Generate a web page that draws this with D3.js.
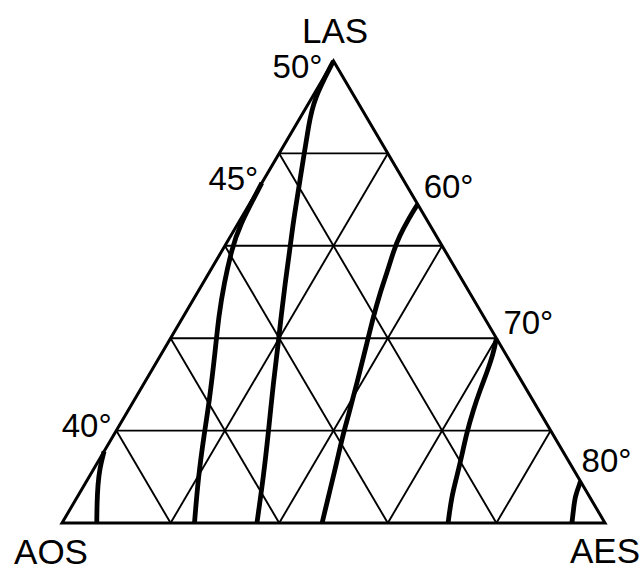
<!DOCTYPE html>
<html>
<head>
<meta charset="utf-8">
<script src="https://cdn.jsdelivr.net/npm/d3@7"></script>
<style>
  html, body { margin: 0; padding: 0; background: #fff; }
  text { font-family: "Liberation Sans", Arial, Helvetica, sans-serif; fill: #000; }
</style>
</head>
<body>
<svg id="chart" width="643" height="572"></svg>
<script>
// Corner components of the ternary diagram
const corners = ["LAS", "AOS", "AES"];
// Grid fractions (percent) for the three families of grid lines
const gridSteps = [20, 40, 60, 80];

// Isotherm names
const isothermLabels = ["40°", "45°", "50°", "60°", "70°", "80°"];
// Each isotherm as [LAS %, AES %] pairs; AOS % = 100 − LAS − AES
const iso40 = [[15.5, 0], [11.9, 1.0], [8.2, 2.5], [4.3, 4.3], [0, 6.4]];
const iso45 = [[73.6, 0], [64.1, 0.5], [59.1, 1.7], [51.9, 3.9], [44.7, 6.5], [37.5, 9.5],
               [26.0, 14.1], [19.4, 16.5], [10.0, 20.1], [0, 24.4]];
const iso50 = [[100, 0], [91.6, 0.5], [85.8, 2.5], [80.0, 4.6], [72.1, 7.5], [65.2, 10.0],
               [59.1, 12.4], [51.5, 15.3], [44.7, 18.0], [39.6, 20.1], [30.2, 23.8],
               [19.4, 28.3], [10.0, 32.1], [0, 35.9]];
const iso60 = [[69, 31], [66, 30.9], [62, 31.1], [59, 31.6], [54, 32.8], [49.7, 33.7],
               [44.7, 35.0], [39.6, 36.5], [30.2, 39.2], [23.0, 41.2], [19.4, 42.1],
               [12.9, 44.1], [7.1, 45.8], [0, 47.9]];
const iso70 = [[40, 60], [36.7, 61.1], [32.4, 62.0], [28.8, 62.6], [24.5, 63.5], [19.4, 64.8],
               [14.4, 66.4], [10.0, 67.7], [5.7, 68.9], [0, 71.1]];
const iso80 = [[9, 91], [5.7, 91.6], [2.8, 92.8], [0, 93.9]];

const isotherms = [iso40, iso45, iso50, iso60, iso70, iso80];

// ---- layout ----
const frame = { left: 62, right: 605, base: 523, top: 61 };

// horizontal position follows AES + LAS/2, vertical follows LAS
const xScale = d3.scaleLinear().domain([0, 100]).range([frame.left, frame.right]);
const yScale = d3.scaleLinear().domain([0, 100]).range([frame.base, frame.top]);
const project = ([las, aes]) => [xScale(aes + las / 2), yScale(las)];

// label placement relative to each isotherm's first point
const isoLabelLayout = {
  "40°": { anchor: "end",   dx: 7.5,  dy: -14 },
  "45°": { anchor: "end",   dx: -3.5, dy: 7 },
  "50°": { anchor: "end",   dx: -11,  dy: 17 },
  "60°": { anchor: "start", dx: 6,    dy: -6 },
  "70°": { anchor: "start", dx: 7,    dy: -4 },
  "80°": { anchor: "start", dx: 1,    dy: -9 }
};
// corner label placement relative to each vertex
const cornerLayout = {
  "LAS": { pt: [100, 0], dx: 1.5, dy: -18 },
  "AOS": { pt: [0, 0],   dx: -11, dy: 41 },
  "AES": { pt: [0, 100], dx: 0,   dy: 40 }
};

const svg = d3.select("#chart");
const line = d3.line();
const smooth = d3.line().curve(d3.curveBasis);

// ---- grid ----
const gridG = svg.append("g")
  .attr("fill", "none").attr("stroke", "#000").attr("stroke-width", 1.9);
gridSteps.forEach(s => {
  // constant LAS
  gridG.append("path").attr("d", line([project([s, 0]), project([s, 100 - s])]));
  // constant AES
  gridG.append("path").attr("d", line([project([0, s]), project([100 - s, s])]));
  // constant AOS
  gridG.append("path").attr("d", line([project([0, 100 - s]), project([100 - s, 0])]));
});

// ---- outline ----
svg.append("path")
  .attr("d", line([project([100, 0]), project([0, 0]), project([0, 100])]) + "Z")
  .attr("fill", "none").attr("stroke", "#000")
  .attr("stroke-width", 3).attr("stroke-linejoin", "miter").attr("stroke-miterlimit", 10);

// ---- isotherms ----
svg.append("g")
  .selectAll("path")
  .data(isotherms)
  .join("path")
  .attr("d", d => smooth(d.map(project)))
  .attr("fill", "none").attr("stroke", "#000")
  .attr("stroke-width", 4.8).attr("stroke-linecap", "butt");

// ---- isotherm labels ----
svg.append("g")
  .selectAll("text")
  .data(isothermLabels)
  .join("text")
  .attr("x", (d, i) => project(isotherms[i][0])[0] + isoLabelLayout[d].dx)
  .attr("y", (d, i) => project(isotherms[i][0])[1] + isoLabelLayout[d].dy)
  .attr("text-anchor", d => isoLabelLayout[d].anchor)
  .attr("font-size", 33)
  .text(d => d);

// ---- corner labels ----
svg.append("g")
  .selectAll("text")
  .data(corners)
  .join("text")
  .attr("x", d => project(cornerLayout[d].pt)[0] + cornerLayout[d].dx)
  .attr("y", d => project(cornerLayout[d].pt)[1] + cornerLayout[d].dy)
  .attr("text-anchor", "middle")
  .attr("font-size", 35)
  .text(d => d);
</script>
</body>
</html>
